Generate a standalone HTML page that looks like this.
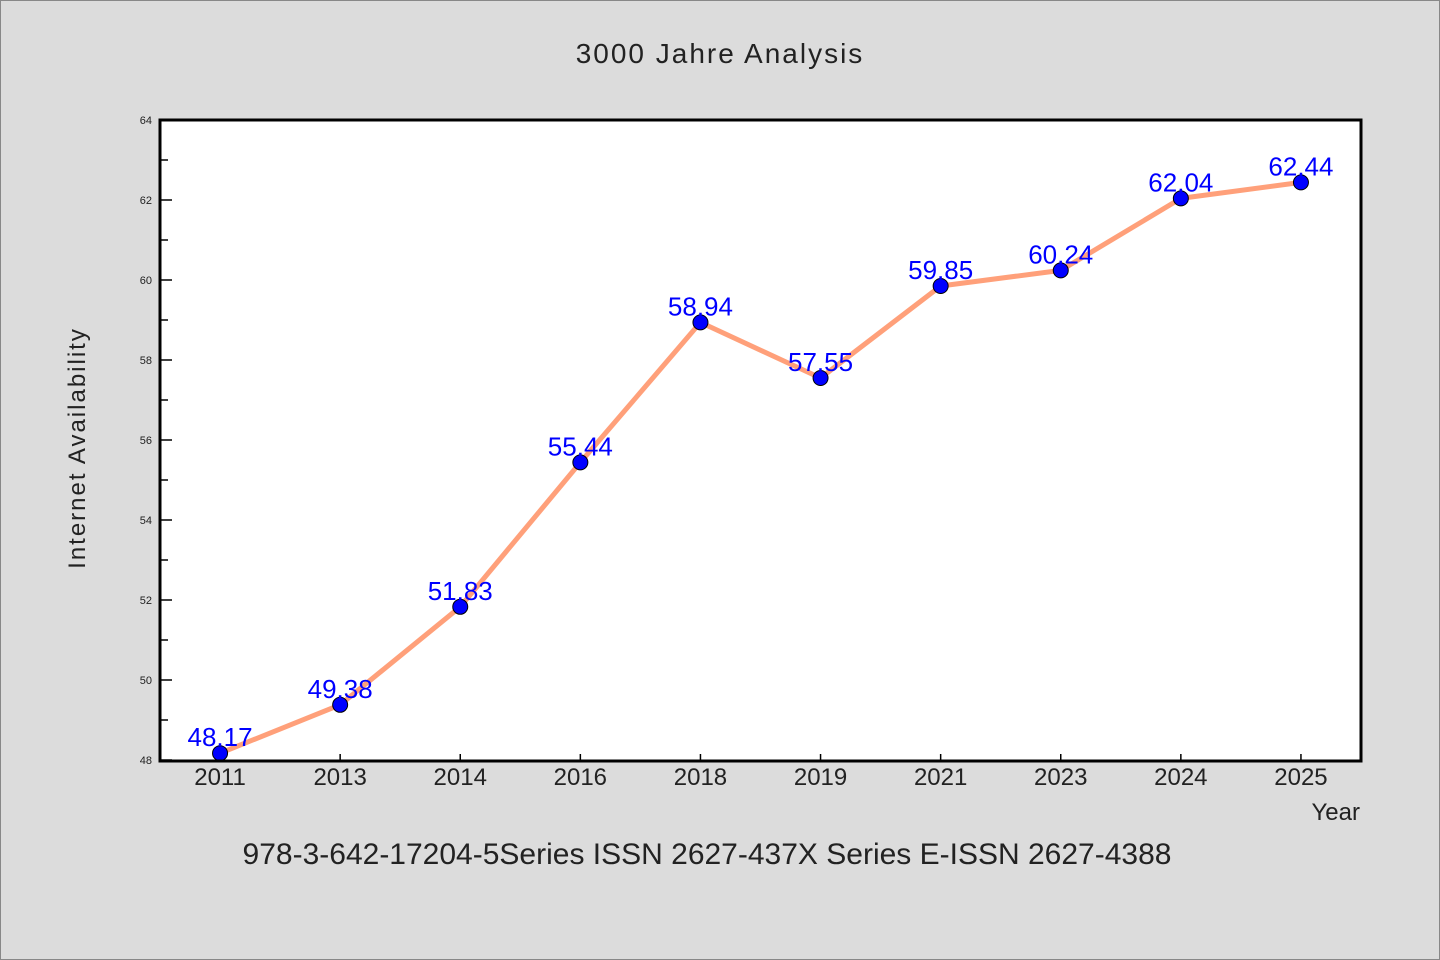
<!DOCTYPE html>
<html><head><meta charset="utf-8"><style>
body{margin:0;background:#dcdcdc;}
svg{display:block;font-family:"WenQuanYi Zen Hei","Liberation Sans",sans-serif;}
</style></head><body>
<svg id="chart" width="1440" height="960">
<rect x="0.5" y="0.5" width="1439" height="959" fill="#dcdcdc" stroke="#888"/>
<text x="720" y="63" text-anchor="middle" font-size="28" letter-spacing="2" fill="#222">3000 Jahre Analysis</text>
<rect x="160" y="120" width="1201" height="641" fill="#fff"/>
<g id="yticks"></g><g id="xticks"></g>
<g id="series"></g>
<rect x="160" y="120" width="1201" height="641" fill="none" stroke="#000" stroke-width="3"/>
<text x="85" y="448" text-anchor="middle" font-size="24" letter-spacing="2" fill="#222" transform="rotate(-90 85 448)">Internet Availability</text>
<text x="1360" y="820" text-anchor="end" font-size="24" fill="#222">Year</text>
<text x="707" y="864" text-anchor="middle" font-size="30" fill="#222">978-3-642-17204-5Series ISSN 2627-437X Series E-ISSN 2627-4388</text>
</svg>
<script>
const categories=["2011","2013","2014","2016","2018","2019","2021","2023","2024","2025"];
const values=[48.17,49.38,51.83,55.44,58.94,57.55,59.85,60.24,62.04,62.44];
const labels=["48.17","49.38","51.83","55.44","58.94","57.55","59.85","60.24","62.04","62.44"];
const yTicks=[48,50,52,54,56,58,60,62,64];
const NS="http://www.w3.org/2000/svg";
const X0=160,X1=1361,Y0=760,Y1=120,yMin=48,yMax=64;
const band=(X1-X0)/categories.length;
const xs=i=>X0+band*(i+0.5);
const ys=v=>Y0-(v-yMin)/(yMax-yMin)*(Y0-Y1);
function mk(tag,attrs,parent){const e=document.createElementNS(NS,tag);for(const k in attrs)e.setAttribute(k,attrs[k]);parent.appendChild(e);return e;}
const yt=document.getElementById('yticks'),xt=document.getElementById('xticks'),sg=document.getElementById('series');
yTicks.forEach((t,i)=>{
  const y=ys(t);
  const l=mk('line',{x1:X0,x2:X0+12,y1:y,y2:y,stroke:'#000','stroke-width':1.5},yt);
  
  
  const tx=mk('text',{x:152,y:y+4,'text-anchor':'end','font-size':11,fill:'#222'},yt);
  tx.textContent=t;
  
  
  if(i<yTicks.length-1){
    const ym=ys(t+1);
    const m=mk('line',{x1:X0,x2:X0+8,y1:ym,y2:ym,stroke:'#000','stroke-width':1.5},yt);
    
    
  }
});
categories.forEach((c,i)=>{
  const x=xs(i);
  const l=mk('line',{x1:x,x2:x,y1:Y0,y2:Y0-6,stroke:'#000','stroke-width':1.5},xt);
  
  
  const tx=mk('text',{x:x,y:785,'text-anchor':'middle','font-size':24,fill:'#222'},xt);
  tx.textContent=c;
  
  
});
const pl=mk('polyline',{points:values.map((v,i)=>xs(i)+','+ys(v)).join(' '),fill:'none',stroke:'#ffa07a','stroke-width':5,'stroke-linejoin':'round'},sg);


values.forEach((v,i)=>{
  const c=mk('circle',{cx:xs(i),cy:ys(v),r:7.5,fill:'#0000ff',stroke:'#000','stroke-width':1},sg);
  
  
});
values.forEach((v,i)=>{
  const t=mk('text',{x:xs(i),y:ys(v)-7,'text-anchor':'middle','font-size':26,fill:'#0000ff'},sg);
  t.textContent=labels[i].replace('.',', ').replace(', ',',');
  t.textContent=labels[i];
  
  
});
</script>
</body></html>
